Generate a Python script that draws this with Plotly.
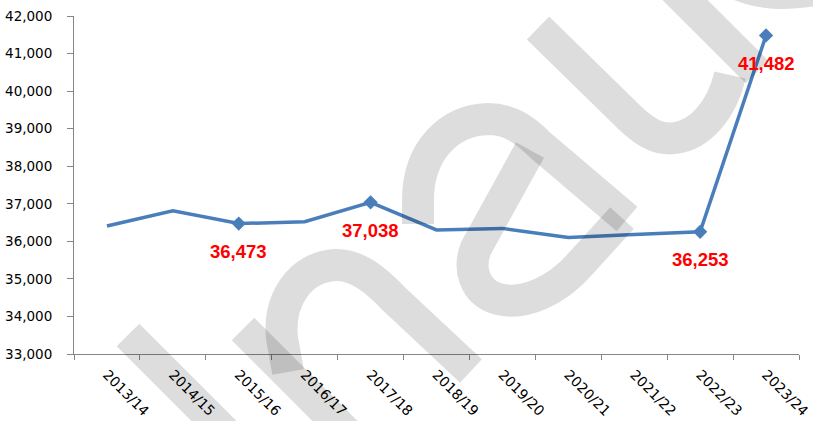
import plotly.graph_objects as go

categories = ["2013/14", "2014/15", "2015/16", "2016/17", "2017/18", "2018/19",
              "2019/20", "2020/21", "2021/22", "2022/23", "2023/24"]
values = [36410, 36815, 36473, 36520, 37038, 36305, 36345, 36100, 36185, 36253, 41482]
labeled = ["2015/16", "2017/18", "2022/23", "2023/24"]

lab_x = [c for c in categories if c in labeled]
lab_y = [v for c, v in zip(categories, values) if c in labeled]

W, H = 813, 421
ML, MR, MT, MB = 74, 14, 16, 67

fig = go.Figure()
fig.add_trace(go.Scatter(
    x=categories, y=values, mode="lines",
    line=dict(color="#4A7EBB", width=3.5),
    hoverinfo="skip", showlegend=False,
))
fig.add_trace(go.Scatter(
    x=lab_x, y=lab_y, mode="markers",
    marker=dict(symbol="diamond", size=11, color="#4A7EBB"),
    showlegend=False,
))
for xv, yv in zip(lab_x, lab_y):
    fig.add_annotation(
        x=xv, y=yv, text=f"{yv:,}", showarrow=False, yshift=-28,
        font=dict(family="Liberation Sans", size=18.5, color="#FF0000", weight="bold"),
    )

# ---- decorative watermark (grey translucent letter strokes), pixel-based ----
pw, ph = W - ML - MR, H - MT - MB


def path(cmds):
    out = []
    for c in cmds:
        if isinstance(c, str):
            out.append(c)
        else:
            x, y = c
            out.append(f"{(x - ML) / pw:.4f},{(H - MB - y) / ph:.4f}")
    return " ".join(out)


wm_strokes = [
    ["M", (128, 335), "L", (245, 452)],                       # i
    ["M", (243, 329), "L", (360, 446)],                       # n stem
    ["M", (288, 372), "L", (282, 338), "C", (278, 300), (300, 267), (335, 265),
     "C", (358, 264), (378, 282), (395, 300), "L", (471, 371)],  # n arch
    ["M", (418, 224), "L", (418, 200), "C", (418, 150), (450, 120), (488, 119),
     "C", (510, 119), (525, 130), (540, 145), "L", (627, 219)],  # a hook + stem
    ["M", (530, 150), "L", (476, 248), "C", (468, 268), (474, 292), (498, 299),
     "C", (525, 306), (558, 290), (582, 262), "L", (622, 218)],  # a bowl
    ["M", (538, 28), "L", (630, 118), "C", (648, 135), (660, 140), (675, 138),
     "C", (700, 135), (722, 110), (730, 75)],                  # u curve
    ["M", (660, -25), "L", (757, 72)],                         # u stem
    ["M", (720, -25), "C", (755, -3), (790, -3), (840, -15)],  # next letter
]
for s in wm_strokes:
    fig.add_shape(
        type="path", path=path(s), xref="paper", yref="paper",
        line=dict(color="rgba(0,0,0,0.135)", width=32),
        fillcolor="rgba(0,0,0,0)", layer="above",
    )

fig.update_layout(
    width=W, height=H,
    margin=dict(l=ML, r=MR, t=MT, b=MB),
    paper_bgcolor="white", plot_bgcolor="white",
    font=dict(family="DejaVu Sans", size=14, color="#000000"),
)
fig.update_xaxes(
    type="category", range=[-0.5, 10.5], tickson="boundaries",
    ticks="outside", ticklen=5, tickcolor="#868686",
    showline=True, linecolor="#868686", linewidth=1,
    tickangle=45, showgrid=False, zeroline=False, automargin=False,
    ticklabelstandoff=6,
    tickfont=dict(family="DejaVu Sans", size=14, color="#000000"),
)
fig.update_yaxes(
    range=[33000, 42000], dtick=1000, tickformat=",",
    ticks="outside", ticklen=6, tickcolor="#868686",
    showline=True, linecolor="#868686", linewidth=1,
    showgrid=False, zeroline=False, ticklabelstandoff=12, automargin=False,
    tickfont=dict(family="DejaVu Sans", size=13.5, color="#000000"),
)

fig.write_html(
    "out.html",
    config={"displayModeBar": False},
    post_script="document.body.style.margin='0';document.body.style.overflow='hidden';",
)
